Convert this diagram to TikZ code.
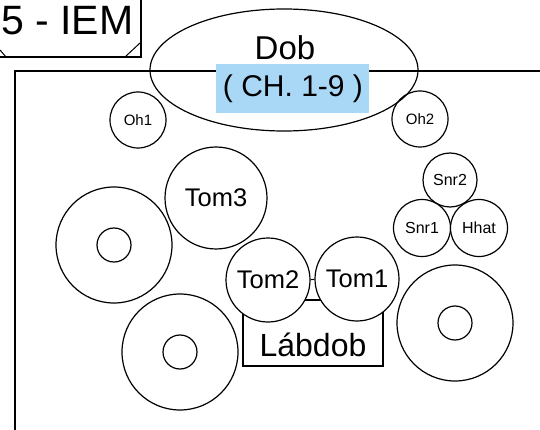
\documentclass[tikz,border=0pt]{standalone}
\usepackage{fontspec}
\setmainfont{Liberation Sans}
\usetikzlibrary{shapes.geometric}
\definecolor{chblue}{RGB}{168,216,245}
\begin{document}
\begin{tikzpicture}[x=1pt,y=-1pt,
  drum/.style={circle,draw,line width=1.2pt,inner sep=0pt,fill=white},
  hole/.style={circle,draw,line width=1.2pt,inner sep=0pt,minimum size=34pt},
  framebar/.style={line width=2pt},
  bigtxt/.style={font=\fontsize{25.5}{25.5}\selectfont},
  smalltxt/.style={font=\fontsize{16}{16}\selectfont}]
\useasboundingbox (0,0) rectangle (540,430);
% frame
\coordinate (fBL) at (15,431);
\coordinate (fTL) at (15,71);
\coordinate (fTR) at (541,71);
\draw[framebar] (fBL) -- (fTL) -- (fTR);
% title box
\node[anchor=base west,inner sep=0pt,font=\fontsize{41}{41}\selectfont] (title) at (1,35) {5 - IEM};
\coordinate (tbL) at (-1,57);
\coordinate (tbC) at (141,57);
\coordinate (tbT) at (141,-1);
\draw[framebar] (tbL) -- (tbC) -- (tbT);
\coordinate (d1a) at (0,50);
\coordinate (d1b) at (6,57);
\coordinate (d2a) at (125,57);
\coordinate (d2b) at (140,43);
\draw[line width=1pt] (d1a) -- (d1b);
\draw[line width=1pt] (d2a) -- (d2b);
% Dob
\node[ellipse,draw,line width=1.2pt,inner sep=0pt,minimum width=268pt,minimum height=122pt] (dob) at (284,70) {};
\node[anchor=base,inner sep=0pt,font=\fontsize{33}{33}\selectfont] (dobtxt) at (285,60) {Dob};
\node[fill=chblue,inner sep=0pt,minimum width=153pt,minimum height=49pt] (chbox) at (292.5,88.5) {};
\node[anchor=base,inner sep=0pt,font=\fontsize{30}{30}\selectfont] (chtxt) at (293,97) {( CH. 1-9 )};
% cymbals
\node[drum,fill=none,minimum size=56pt,font=\fontsize{15}{15}\selectfont] (oh1) at (138,120) {Oh1};
\node[drum,fill=none,minimum size=56pt,font=\fontsize{15}{15}\selectfont] (oh2) at (420,119) {Oh2};
\node[drum,minimum size=54pt,smalltxt] (snr2) at (450,180) {Snr2};
\node[drum,minimum size=57pt,smalltxt] (snr1) at (422,228) {Snr1};
\node[drum,minimum size=57pt,smalltxt] (hhat) at (479,228) {Hhat};
% kick
\node[draw,line width=1.2pt,inner sep=0pt,minimum width=140pt,minimum height=66pt] (lab) at (313,333) {};
\node[inner sep=0pt,font=\fontsize{32}{32}\selectfont] (labtxt) at (313,345) {Lábdob};
% toms
\node[drum,minimum size=102pt,bigtxt] (tom3) at (216,198) {Tom3};
\node[drum,minimum size=84pt,bigtxt] (tom2) at (268,280) {Tom2};
\node[drum,minimum size=84pt,bigtxt] (tom1) at (357,279) {Tom1};
\draw[line width=1pt] (tom2) -- (tom1);
% floor drums
\node[drum,minimum size=116pt] (ft1) at (114,245) {};
\node[hole] (ft1c) at (114,245) {};
\node[drum,minimum size=116pt] (ft2) at (180,352) {};
\node[hole] (ft2c) at (180,352) {};
\node[drum,minimum size=116pt] (ft3) at (455,323) {};
\node[hole] (ft3c) at (455,323) {};
\end{tikzpicture}
\end{document}
